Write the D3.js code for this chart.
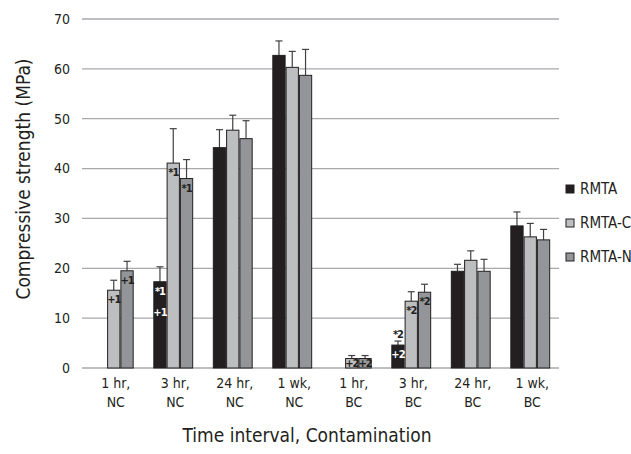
<!DOCTYPE html>
<html><head><meta charset="utf-8">
<script src="https://cdn.jsdelivr.net/npm/d3@7"></script>
<style>
body{margin:0;background:#fff;}
svg{display:block;font-family:"DejaVu Sans Condensed","DejaVu Sans",sans-serif;font-stretch:condensed;}
</style></head><body>
<svg id="chart" width="631" height="454"></svg>
<script>
const categories = [["1 hr,","NC"],["3 hr,","NC"],["24 hr,","NC"],["1 wk,","NC"],["1 hr,","BC"],["3 hr,","BC"],["24 hr,","BC"],["1 wk,","BC"]];
const seriesNames = ["RMTA","RMTA-C","RMTA-N"];
const rmta   = [null, 17.3, 44.2, 62.7, null, 4.6, 19.4, 28.5];
const rmtaC  = [15.6, 41.1, 47.7, 60.3, 1.9, 13.4, 21.6, 26.3];
const rmtaN  = [19.5, 38.0, 46.0, 58.7, 1.9, 15.2, 19.4, 25.7];
const rmtaErr  = [null, 3.0, 3.6, 2.9, null, 0.8, 1.4, 2.8];
const rmtaCErr = [2.0, 6.9, 3.0, 3.2, 0.6, 1.9, 1.9, 2.7];
const rmtaNErr = [1.9, 3.8, 3.6, 5.2, 0.6, 1.6, 2.4, 2.1];
const yTicks = [0,10,20,30,40,50,60,70];
// annotations: [category index, series index, text lines]
const insideLabels = [[0,1,["+1"]],[0,2,["+1"]],[1,0,["*1","+1"]],[1,1,["*1"]],[1,2,["*1"]],[4,1,["+2"]],[4,2,["+2"]],[5,0,["+2"]],[5,1,["*2"]],[5,2,["*2"]]];
const aboveLabels = [[5,0,"*2"]];

const values = [rmta, rmtaC, rmtaN];
const errs = [rmtaErr, rmtaCErr, rmtaNErr];
const colors = ["#231f20","#bcbec0","#939598"];

const svg = d3.select("#chart");
const y = d3.scaleLinear().domain([0,70]).range([368,19]);
const x0 = d3.scaleBand().domain(d3.range(categories.length)).range([84,560]).paddingInner(0.33).paddingOuter(0.165);
const x1 = d3.scaleBand().domain(d3.range(seriesNames.length)).range([0,x0.bandwidth()]);

// gridlines
svg.append("g").selectAll("line").data(yTicks).join("line")
  .attr("x1",82).attr("x2",559).attr("y1",d=>y(d)).attr("y2",d=>y(d))
  .attr("stroke","#a7a9ac").attr("stroke-width",1.3);

// y tick labels
svg.append("g").selectAll("text").data(yTicks).join("text")
  .attr("x",70).attr("y",d=>y(d)).attr("dy","0.35em").attr("text-anchor","end")
  .attr("font-size",14).attr("fill","#231f20").text(d=>d);

// bars
const bars = [];
values.forEach((arr,s)=>arr.forEach((v,i)=>{ if(v!=null) bars.push({i,s,v,e:errs[s][i]}); }));
const g = svg.append("g");
g.selectAll("line.err").data(bars).join("line").attr("class","err")
  .attr("x1",d=>x0(d.i)+x1(d.s)+x1.bandwidth()/2).attr("x2",d=>x0(d.i)+x1(d.s)+x1.bandwidth()/2)
  .attr("y1",d=>y(d.v)).attr("y2",d=>y(d.v+d.e)).attr("stroke","#414042").attr("stroke-width",1.2);
g.selectAll("line.cap").data(bars).join("line").attr("class","cap")
  .attr("x1",d=>x0(d.i)+x1(d.s)+x1.bandwidth()/2-3.5).attr("x2",d=>x0(d.i)+x1(d.s)+x1.bandwidth()/2+3.5)
  .attr("y1",d=>y(d.v+d.e)).attr("y2",d=>y(d.v+d.e)).attr("stroke","#414042").attr("stroke-width",1.2);
g.selectAll("rect").data(bars).join("rect")
  .attr("x",d=>x0(d.i)+x1(d.s)+0.5).attr("width",x1.bandwidth()-1)
  .attr("y",d=>y(d.v)).attr("height",d=>y(0)-y(d.v))
  .attr("fill",d=>colors[d.s]).attr("stroke","#231f20").attr("stroke-width",1);

// inside labels
insideLabels.forEach(([i,s,lines])=>{
  const v = values[s][i];
  const cx = x0(i)+x1(s)+x1.bandwidth()/2;
  lines.forEach((t,k)=>{
    svg.append("text").attr("x",cx).attr("y",Math.min(y(v)+13+k*21, y(0)-1))
      .attr("text-anchor","middle").attr("font-size",11).attr("font-weight","bold")
      .attr("letter-spacing",-1)
      .attr("fill",s===0?"#ffffff":"#231f20").text(t);
  });
});
aboveLabels.forEach(([i,s,t])=>{
  const v = values[s][i]+errs[s][i];
  const cx = x0(i)+x1(s)+x1.bandwidth()/2;
  svg.append("text").attr("x",cx).attr("y",y(v)-3).attr("text-anchor","middle")
    .attr("font-size",11).attr("font-weight","bold").attr("letter-spacing",-1)
    .attr("fill","#231f20").text(t);
});

// x labels
const xl = svg.append("g").selectAll("text").data(categories).join("text")
  .attr("text-anchor","middle").attr("font-size",14).attr("fill","#231f20");
xl.each(function(d,i){
  const t = d3.select(this);
  d.forEach((line,k)=>t.append("tspan").attr("x",x0(i)+x0.bandwidth()/2+2).attr("y",388+k*19).text(line));
});

// axis titles
svg.append("text").attr("transform","translate(30,179) rotate(-90)").attr("text-anchor","middle")
  .attr("font-size",19).attr("fill","#231f20").text("Compressive strength (MPa)");
svg.append("text").attr("x",307).attr("y",442).attr("text-anchor","middle")
  .attr("font-size",19).attr("fill","#231f20").text("Time interval, Contamination");

// legend
const lg = svg.append("g").selectAll("g").data(seriesNames).join("g")
  .attr("transform",(d,k)=>`translate(566,${189+k*34})`);
lg.append("rect").attr("x",0).attr("y",-4).attr("width",8).attr("height",8)
  .attr("fill",(d,k)=>colors[k]).attr("stroke","#231f20").attr("stroke-width",1);
lg.append("text").attr("x",14).attr("y",0).attr("dy","0.35em").attr("font-size",15)
  .attr("fill","#231f20").text(d=>d);
</script>
</body></html>
